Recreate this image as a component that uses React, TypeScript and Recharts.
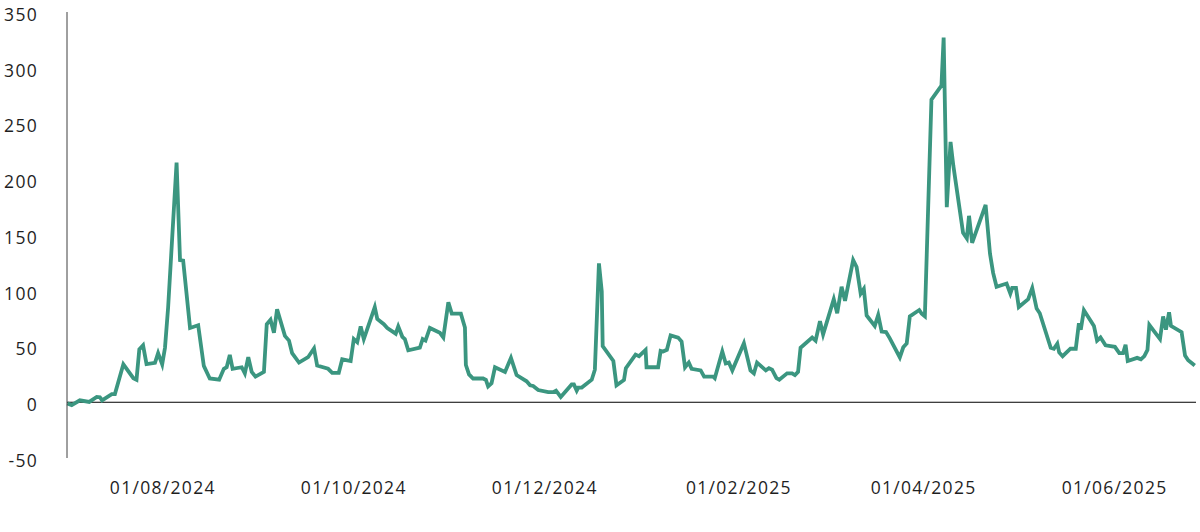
import { Line, LineChart, ReferenceLine, XAxis, YAxis } from 'recharts';

// days since 1 Jul 2024
const days = [
  0.5, 1.9, 4.5, 7.5, 9.9, 10.9, 11.6, 14.7, 15.7, 18.4,
  21.6, 22.6, 23.5, 24.7, 25.8, 28.5, 29.5, 30.8, 31.7, 32.7,
  35.4, 36.5, 37.5, 39.7, 42.3, 44.1, 46.0, 49.0, 50.5, 51.4,
  52.4, 53.3, 56.2, 57.2, 58.3, 59.4, 60.6, 63.3, 64.2, 65.4,
  66.5, 67.5, 70.0, 71.3, 72.3, 74.5, 77.4, 79.3, 80.3, 83.8,
  85.1, 87.2, 88.3, 91.0, 92.0, 93.1, 94.2, 95.2, 98.7, 99.5,
  101.6, 102.7, 105.4, 106.2, 107.5, 108.3, 109.4, 113.1, 114.0, 114.9,
  116.3, 119.5, 120.6, 122.2, 123.3, 126.2, 127.5, 127.8, 128.8, 130.1,
  133.3, 134.2, 134.9, 136.0, 137.1, 140.3, 142.2, 144.0, 147.2, 148.3,
  149.3, 150.9, 154.1, 155.7, 156.6, 158.1, 161.6, 162.3, 163.2, 163.7,
  164.8, 168.0, 169.0, 170.3, 171.2, 171.5, 174.9, 175.9, 178.3, 178.9,
  182.0, 183.1, 185.2, 185.5, 189.2, 190.0, 190.8, 192.0, 193.2, 195.6,
  196.7, 197.8, 199.0, 199.9, 202.8, 203.9, 206.8, 207.3, 209.7, 210.8,
  211.8, 212.9, 216.6, 218.7, 219.8, 220.8, 223.6, 224.6, 225.6, 227.0,
  227.9, 230.4, 232.0, 232.9, 233.9, 234.7, 238.4, 239.5, 240.9, 241.9,
  245.3, 246.4, 247.8, 248.9, 251.5, 252.6, 253.9, 254.9, 255.8, 258.4,
  259.5, 260.6, 262.0, 263.2, 266.4, 267.5, 268.6, 269.6, 272.6, 273.4,
  274.4, 276.5, 279.7, 280.4, 281.4, 282.6, 283.5, 286.6, 287.8, 288.5,
  289.5, 293.8, 295.2, 296.2, 297.3, 300.5, 301.7, 302.3, 303.5, 304.4,
  307.4, 308.7, 310.1, 311.1, 314.6, 315.6, 316.7, 317.3, 318.4, 320.9,
  322.6, 323.6, 324.2, 325.2, 328.4, 329.4, 330.5, 332.1, 335.1, 336.5,
  337.7, 338.5, 339.2, 342.2, 343.4, 344.5, 345.5, 346.1, 349.5, 350.5,
  351.4, 352.4, 353.0, 356.4, 357.5, 358.5, 360.6,
];

const values = [
  -1, -2.5, 1.7, 0.3, 4.8, 4.5, 1.7, 7.3, 7.3, 34,
  21.6, 20.2, 47.4, 51, 34.3, 35.4, 44, 34, 48.9, 85,
  215, 127.5, 127, 66.6, 69, 32.6, 21.3, 20.2, 30, 31.4,
  42.4, 30, 31.4, 25.9, 40.4, 27.2, 23, 27.2, 70, 74,
  62.3, 83.4, 59.5, 55.3, 44, 35.6, 40.4, 48.3, 32.9, 30,
  26.4, 26.4, 38.5, 37, 56.7, 53.9, 68, 56.7, 85.4, 74.7,
  70, 66.6, 61.5, 68, 58.7, 56.7, 46.6, 48.9, 56.7, 55.3,
  66.6, 62.3, 58.1, 89.6, 79.5, 79.5, 67.1, 33.4, 25, 21.3,
  21.3, 20, 14.3, 17.1, 31.4, 27.2, 39.8, 24.4, 18.8, 15.2,
  14.6, 11, 9, 9, 10.4, 4.8, 16, 16, 10.4, 13.2,
  13.2, 20.2, 29.2, 124.5, 99.4, 50.3, 37, 15.2, 20, 30.6,
  42.7, 41.3, 46.9, 31.4, 31.4, 46.1, 45.5, 47, 60, 58,
  54.5, 31.4, 35.6, 30, 28.6, 23, 23, 21.6, 45.5, 34.8,
  35.6, 28.6, 53, 28.6, 25.9, 35.6, 28.6, 30.6, 29.2, 21.6,
  20.2, 25.9, 25.9, 24.4, 27.2, 48.9, 58.1, 55.3, 72.7, 60.9,
  92.4, 79.8, 103.6, 91, 127.5, 121.3, 97.5, 101.7, 77.8, 68.5,
  78.3, 63.4, 63, 57.3, 40.2, 49.3, 52.7, 77, 82.7, 79.3,
  77, 271.3, 284, 327, 175, 233.5, 212, 152, 147, 167.2,
  143, 177, 133.3, 116, 103.6, 106.5, 97.5, 102.5, 102.5, 85.4,
  92.4, 102.4, 84, 79.8, 48.9, 48, 52.5, 44.7, 41.3, 48,
  48, 70.8, 65.1, 82.6, 68.5, 55.3, 58.1, 51.1, 49.7, 44,
  44, 51.6, 37, 39.8, 38.5, 41.3, 46.9, 69.3, 56.7, 76.9,
  65.1, 80.6, 68.5, 62.9, 41.9, 37.7, 32.9,
];

const tickDays = [31, 92, 153, 215, 274, 335];
const tickLabels = ['01/08/2024', '01/10/2024', '01/12/2024', '01/02/2025', '01/04/2025', '01/06/2025'];
const yTicks = [-50, 0, 50, 100, 150, 200, 250, 300, 350];

const data = days.map((d, i) => ({ d, v: values[i] }));

const tickStyle = { fontFamily: 'Open Sans', fontSize: 17.5, fill: '#1f1f1f', letterSpacing: 1.3 };

export default function App() {
  return (
    <div style={{ position: 'absolute', left: 0, top: 0, background: '#fff' }}>
      <LineChart width={1200} height={532} data={data} margin={{ top: 12, right: 4, bottom: 44, left: 0 }}>
        <XAxis
          type="number"
          dataKey="d"
          domain={[0.4, 361]}
          ticks={tickDays}
          tickFormatter={(t) => tickLabels[tickDays.indexOf(t)] ?? ''}
          axisLine={false}
          tickLine={false}
          tickSize={0}
          tickMargin={24}
          tick={tickStyle}
          interval={0}
        />
        <YAxis
          domain={[-50, 350]}
          ticks={yTicks}
          width={67}
          axisLine={{ stroke: '#404040', strokeWidth: 1 }}
          tickLine={false}
          tickSize={0}
          tickMargin={29}
          tick={{ ...tickStyle, dy: 2.7 }}
          interval={0}
        />
        <ReferenceLine y={0} stroke="#000" strokeWidth={1} />
        <Line
          type="linear"
          dataKey="v"
          stroke="#3b9680"
          strokeWidth={3.8}
          dot={false}
          isAnimationActive={false}
        />
      </LineChart>
    </div>
  );
}
